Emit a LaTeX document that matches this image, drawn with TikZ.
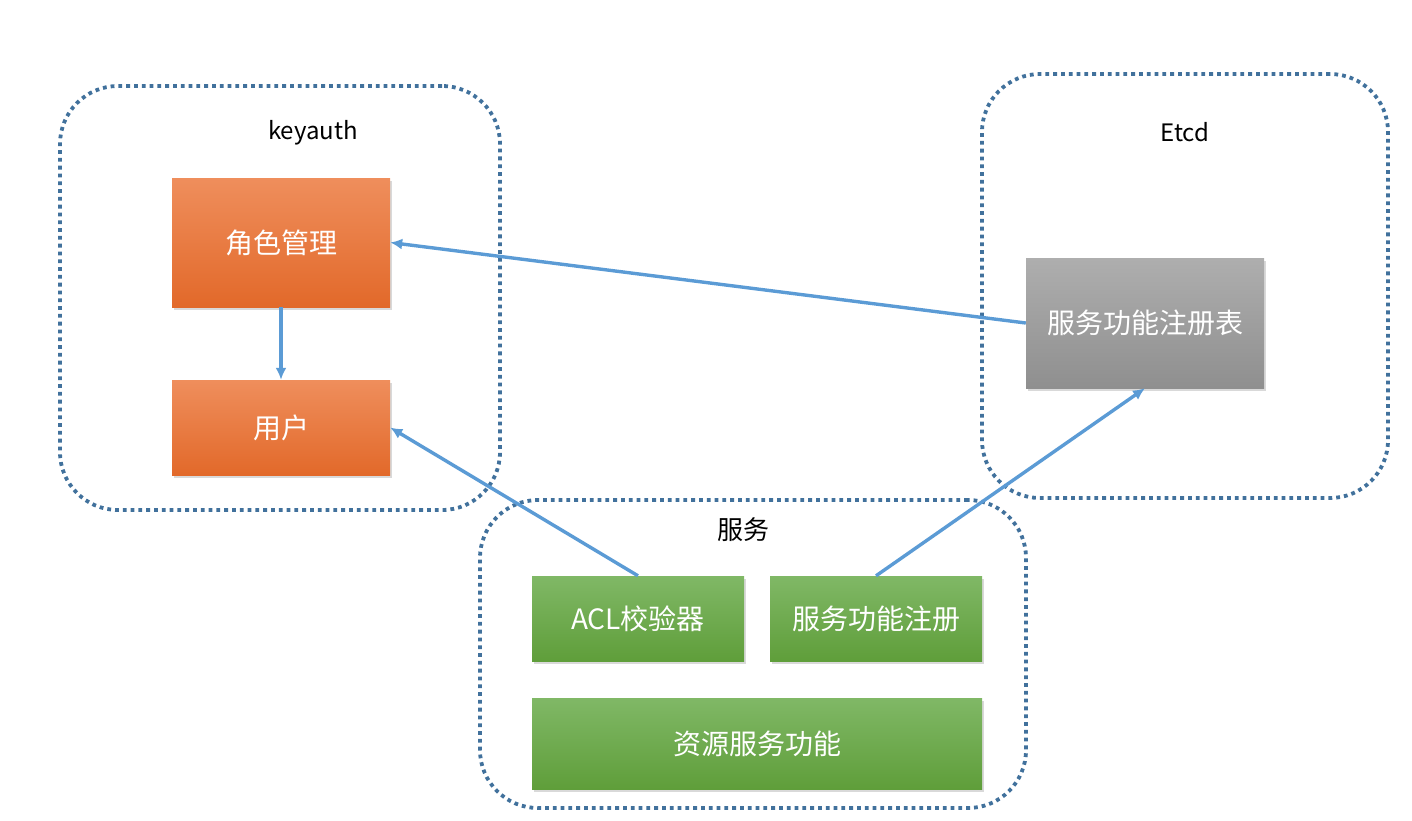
\documentclass[tikz,border=0pt]{standalone}
\usepackage{fontspec}
\setmainfont{Noto Sans CJK SC}
\usetikzlibrary{arrows.meta, shadows}

\definecolor{dotblue}{HTML}{41719C}
\definecolor{linkblue}{HTML}{5B9BD5}
\definecolor{orangetop}{HTML}{EF8E5C}
\definecolor{orangebot}{HTML}{E2692A}
\definecolor{greentop}{HTML}{80B866}
\definecolor{greenbot}{HTML}{5F9E3A}
\definecolor{graytop}{HTML}{AEAEAE}
\definecolor{graybot}{HTML}{8F8F8F}

\begin{document}
\begin{tikzpicture}[x=1pt,y=-1pt]
\useasboundingbox (0,0) rectangle (1412,820);

% % groups
\begin{scope}[
    every node/.style={rectangle,rounded corners=58pt,draw=dotblue,
        line width=3.8pt,dash pattern=on 3.8pt off 4pt,inner sep=0pt}]
    \node (keyauth) at (280,298) [minimum width=440pt,minimum height=424pt] {};
    \node (etcd) at (1185,286) [minimum width=406pt,minimum height=424pt] {};
    \node (service) at (753,654) [minimum width=546pt,minimum height=308pt] {};
\end{scope}

\begin{scope}[every node/.style={font=\fontsize{24}{28}\selectfont,text=black}]
    \node (keyauthname) at (313,133) {keyauth};
    \node (etcdname) at (1185,132) {Etcd};
    \node (servicename) at (743,530) {\fontsize{26}{30}\selectfont 服务};
\end{scope}

% % boxes
\begin{scope}[
    every node/.style={rectangle,inner sep=0pt,text=white,
        font=\fontsize{28}{32}\selectfont,
        drop shadow={opacity=0.3,shadow xshift=1.5pt,shadow yshift=-3pt}},
    orangebox/.style={top color=orangetop,bottom color=orangebot},
    greenbox/.style={top color=greentop,bottom color=greenbot},
    graybox/.style={top color=graytop,bottom color=graybot}]
    \node (role) at (281,242.5) [orangebox,minimum width=218pt,minimum height=129pt] {角色管理};
    \node (user) at (281,427.5) [orangebox,minimum width=218pt,minimum height=95pt] {用户};

    \node (regtable) at (1145,323) [graybox,minimum width=238pt,minimum height=130pt] {服务功能注册表};

    \node (acl) at (638,618.5) [greenbox,minimum width=212pt,minimum height=85pt] {ACL校验器};
    \node (reg) at (876,618.5) [greenbox,minimum width=212pt,minimum height=85pt] {服务功能注册};
    \node (res) at (757,743.5) [greenbox,minimum width=450pt,minimum height=91pt] {资源服务功能};
\end{scope}

% % links
\begin{scope}[>={Latex[length=12pt,width=11pt]},
              every edge/.style={draw=linkblue,line width=3.4pt}]
    \path [->] (regtable.west) edge (role.east);
    \path [->] (role.south) edge (user.north);
    \path [->] (acl.north) edge (user.east);
    \path [->] (reg.north) edge (regtable.south);
\end{scope}
\end{tikzpicture}
\end{document}
